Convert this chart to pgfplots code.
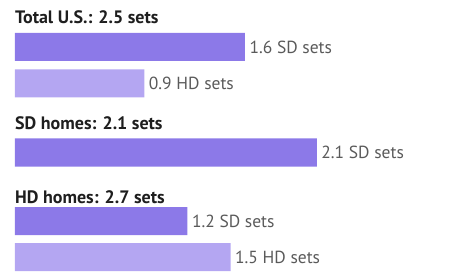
\documentclass[border=0pt]{standalone}
\usepackage{fontspec}
\setmainfont{PT Sans}
\usepackage{pgfplots}
\pgfplotsset{compat=1.18}
\definecolor{sdc}{HTML}{8C79E8}
\definecolor{hdc}{HTML}{B4A6F2}
\definecolor{lab}{HTML}{5A5A5A}
\definecolor{ttl}{HTML}{1E1E1E}
\begin{document}
\begin{tikzpicture}
\begin{axis}[
  width=462pt, height=275pt, scale only axis,
  xmin=-0.1043, xmax=3.1096, ymin=0, ymax=275, y dir=reverse,
  axis lines=none, xtick=\empty, ytick=\empty,
  xbar, bar width=28, bar shift=0pt, clip=false,
  point meta=explicit symbolic,
  nodes near coords,
  every node near coord/.append style={anchor=west, xshift=1pt, text=lab, font=\fontsize{17.5}{18}\selectfont},
]
\draw[draw=none] (rel axis cs:0,0) rectangle (rel axis cs:1,1);
\addplot[draw=none, fill=sdc] coordinates {(1.6,47) [1.6 SD sets] (2.1,152.5) [2.1 SD sets] (1.2,221) [1.2 SD sets]};
\addplot[draw=none, fill=hdc] coordinates {(0.9,83.5) [0.9 HD sets] (1.5,257) [1.5 HD sets]};
\node[anchor=base west, inner sep=0pt, text=ttl, font=\fontsize{18}{19}\bfseries] at (axis cs:0,24) {Total U.S.: 2.5 sets};
\node[anchor=base west, inner sep=0pt, text=ttl, font=\fontsize{18}{19}\bfseries] at (axis cs:0,130) {SD homes: 2.1 sets};
\node[anchor=base west, inner sep=0pt, text=ttl, font=\fontsize{18}{19}\bfseries] at (axis cs:0,203) {HD homes: 2.7 sets};
\end{axis}
\end{tikzpicture}
\end{document}
